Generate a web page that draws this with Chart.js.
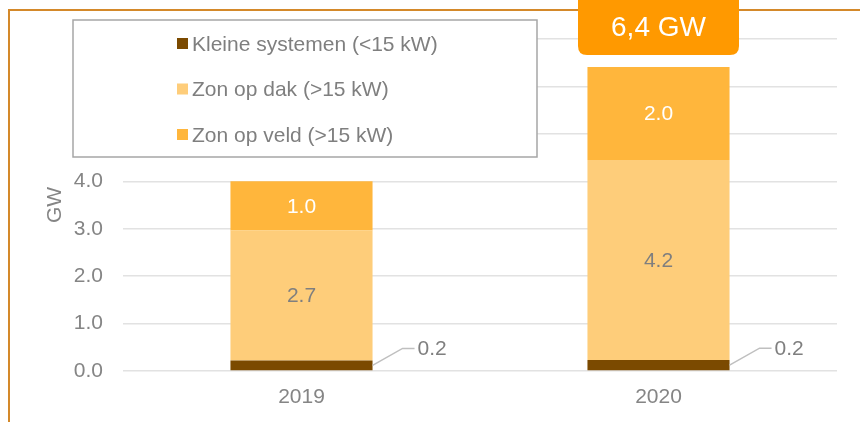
<!DOCTYPE html>
<html>
<head>
<meta charset="utf-8">
<script src="https://cdn.jsdelivr.net/npm/chart.js@4/dist/chart.umd.min.js"></script>
<style>
  html, body { margin: 0; padding: 0; background: #ffffff; }
  #wrap { width: 860px; height: 422px; position: relative; }
</style>
</head>
<body>
<div id="wrap"><canvas id="c" width="860" height="422"></canvas></div>
<script>
const categories = ['2019', '2020'];
const seriesNames = ['Kleine systemen (<15 kW)', 'Zon op dak (>15 kW)', 'Zon op veld (>15 kW)'];
const kleineSystemen = [0.22, 0.23];
const zonOpDak = [2.74, 4.22];
const zonOpVeld = [1.04, 1.96];
const yTicks = [0, 1, 2, 3, 4];
const totalLabelSuffix = ' GW';

const FONT = '"Liberation Sans", Arial, sans-serif';
const FS = 21;
const colors = ['#7B4A00', '#FECD7A', '#FFB63C'];
const labelColors = [null, '#7f7f7f', '#ffffff'];

const framePlugin = {
  id: 'frame',
  beforeDraw(chart) {
    const ctx = chart.ctx;
    ctx.save();
    ctx.fillStyle = '#ffffff';
    ctx.fillRect(0, 0, chart.width, chart.height);
    ctx.strokeStyle = '#D4892A';
    ctx.lineWidth = 2;
    ctx.beginPath();
    ctx.moveTo(9, chart.height + 2);
    ctx.lineTo(9, 10);
    ctx.lineTo(chart.width + 2, 10);
    ctx.stroke();
    ctx.restore();
  }
};

const labelPlugin = {
  id: 'labels',
  afterDatasetsDraw(chart) {
    const ctx = chart.ctx;
    ctx.save();
    ctx.font = FS + 'px ' + FONT;
    chart.data.datasets.forEach((ds, di) => {
      const meta = chart.getDatasetMeta(di);
      meta.data.forEach((bar, i) => {
        const v = ds.data[i];
        const txt = v.toFixed(1);
        const cy = (bar.y + bar.base) / 2;
        if (di === 0) {
          const right = bar.x + bar.width / 2;
          ctx.strokeStyle = '#bfbfbf';
          ctx.lineWidth = 1.5;
          ctx.beginPath();
          ctx.moveTo(right, cy);
          ctx.lineTo(right + 30, cy - 17);
          ctx.lineTo(right + 42, cy - 17);
          ctx.stroke();
          ctx.fillStyle = '#7f7f7f';
          ctx.textAlign = 'left';
          ctx.textBaseline = 'middle';
          ctx.fillText(txt, right + 45, cy - 16);
        } else {
          ctx.fillStyle = labelColors[di];
          ctx.textAlign = 'center';
          ctx.textBaseline = 'middle';
          ctx.fillText(txt, bar.x, cy + 1);
        }
      });
    });
    ctx.restore();
  },
  afterDraw(chart) {
    const ctx = chart.ctx;
    ctx.save();
    // legend box
    const lx = 73, ly = 20, lw = 464, lh = 137;
    ctx.fillStyle = '#ffffff';
    ctx.fillRect(lx, ly, lw, lh);
    ctx.strokeStyle = '#a6a6a6';
    ctx.lineWidth = 1.5;
    ctx.strokeRect(lx, ly, lw, lh);
    ctx.font = FS + 'px ' + FONT;
    ctx.textAlign = 'left';
    ctx.textBaseline = 'middle';
    chart.data.datasets.forEach((ds, di) => {
      const y = 44 + di * 45.5;
      ctx.fillStyle = ds.backgroundColor;
      ctx.fillRect(177, y - 6, 11, 11);
      ctx.fillStyle = '#7f7f7f';
      ctx.fillText(ds.label, 192, y + 1);
    });
    // total box on last category
    const last = categories.length - 1;
    let total = 0;
    chart.data.datasets.forEach(ds => { total += ds.data[last]; });
    const topMeta = chart.getDatasetMeta(chart.data.datasets.length - 1);
    const bx = topMeta.data[last].x;
    const w = 161, x0 = bx - w / 2, y0 = -12, y1 = 55, r = 9;
    ctx.fillStyle = '#FF9900';
    ctx.beginPath();
    ctx.moveTo(x0, y0);
    ctx.lineTo(x0 + w, y0);
    ctx.lineTo(x0 + w, y1 - r);
    ctx.quadraticCurveTo(x0 + w, y1, x0 + w - r, y1);
    ctx.lineTo(x0 + r, y1);
    ctx.quadraticCurveTo(x0, y1, x0, y1 - r);
    ctx.closePath();
    ctx.fill();
    ctx.fillStyle = '#ffffff';
    ctx.font = '28px ' + FONT;
    ctx.textAlign = 'center';
    ctx.textBaseline = 'alphabetic';
    ctx.fillText(total.toFixed(1).replace('.', ',') + totalLabelSuffix, bx, 36);
    ctx.restore();
  }
};

const datasetValues = [kleineSystemen, zonOpDak, zonOpVeld];

new Chart(document.getElementById('c'), {
  type: 'bar',
  data: {
    labels: categories,
    datasets: datasetValues.map((vals, i) => ({
      label: seriesNames[i],
      data: vals,
      backgroundColor: colors[i],
      borderWidth: 0,
      barPercentage: 0.398,
      categoryPercentage: 1.0
    }))
  },
  options: {
    responsive: false,
    animation: false,
    layout: { padding: { top: 39, right: 23, left: 0, bottom: 0 } },
    plugins: { legend: { display: false }, tooltip: { enabled: false } },
    scales: {
      x: {
        stacked: true,
        grid: { display: false },
        border: { display: false },
        ticks: { color: '#858585', font: { family: FONT, size: FS }, padding: 6 },
        afterFit(scale) { scale.height = 51; }
      },
      y: {
        stacked: true,
        min: 0,
        max: 7,
        ticks: {
          stepSize: 1,
          color: '#858585',
          font: { family: FONT, size: FS },
          padding: 20,
          callback(v) { return yTicks.includes(v) ? v.toFixed(1) : ''; }
        },
        grid: { color: '#e2e2e2', lineWidth: 1.5, drawTicks: false },
        border: { display: false },
        title: {
          display: true,
          text: 'GW',
          color: '#858585',
          font: { family: FONT, size: FS },
          padding: { top: 43, bottom: 0 }
        },
        afterFit(scale) { scale.width = 123; }
      }
    }
  },
  plugins: [framePlugin, labelPlugin]
});
</script>
</body>
</html>
